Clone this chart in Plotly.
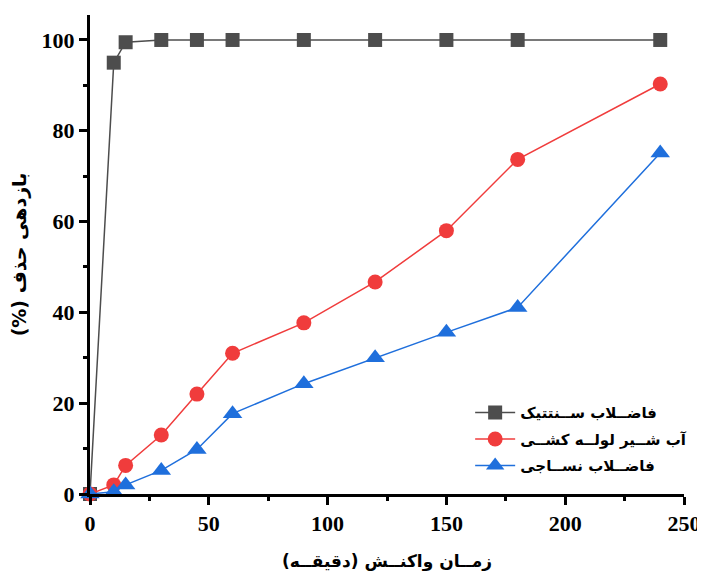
import plotly.graph_objects as go

time_min = [0, 10, 15, 30, 45, 60, 90, 120, 150, 180, 240]
synthetic = [0, 95, 99.5, 100, 100, 100, 100, 100, 100, 100, 100]
tap_water = [0, 2, 6.3, 13, 22, 31, 37.7, 46.7, 58, 73.7, 90.3]
textile = [0, 0.5, 2, 5.2, 9.8, 17.7, 24.3, 30, 35.6, 41.1, 75.1]

names = [
    "فاضــلاب ســنتتيک",
    "آب شــير لولــه كشــی",
    "فاضــلاب نســاجی",
]
colors = ["#4d4d4d", "#f03c3c", "#1f6fdc"]
symbols = ["square", "circle", "triangle-up"]
sizes = [14, 15, 17]
series = [synthetic, tap_water, textile]

x_title = "زمــان واکنــش (دقیقــه)"
y_title = "\u202bبازدهی حذف (%)\u202c"

fig = go.Figure()
for i, (name, ys, c, s, sz) in enumerate(zip(names, series, colors, symbols, sizes)):
    fig.add_trace(go.Scatter(
        x=time_min, y=ys, name=name, mode="lines+markers",
        line=dict(color=c, width=1.5),
        marker=dict(symbol=s, size=sz, color=c),
        cliponaxis=False, legendgroup=f"g{i}",
    ))

tickfont = dict(family="Liberation Serif", size=22, color="black", weight="bold")
fig.update_layout(
    width=697, height=569,
    margin=dict(l=82, r=21, t=7, b=83, autoexpand=False),
    plot_bgcolor="white", paper_bgcolor="white",
    showlegend=True,
    legend=dict(
        x=0.64, y=0.204, xanchor="left", yanchor="top",
        font=dict(family="DejaVu Sans", size=15, color="black", weight="bold"),
        bgcolor="rgba(0,0,0,0)", tracegroupgap=4, itemwidth=40,
    ),
    xaxis=dict(
        range=[0, 250], tickvals=[0, 50, 100, 150, 200, 250], automargin=False,
        showgrid=False, zeroline=False, showline=True, linecolor="black", linewidth=3,
        ticks="outside", ticklen=8, tickwidth=3, tickcolor="black",
        minor=dict(ticks="outside", ticklen=4, tickwidth=3, tickcolor="black", dtick=25, showgrid=False),
        tickfont=tickfont,
        title=dict(text=x_title, font=dict(family="DejaVu Sans", size=17, color="black", weight="bold"), standoff=20),
    ),
    yaxis=dict(
        range=[0, 105.5], tickvals=[0, 20, 40, 60, 80, 100], automargin=False,
        showgrid=False, zeroline=False, showline=True, linecolor="black", linewidth=3,
        ticks="outside", ticklen=8, tickwidth=3, tickcolor="black",
        minor=dict(ticks="outside", ticklen=4, tickwidth=3, tickcolor="black", dtick=10, showgrid=False),
        tickfont=tickfont,
        title=dict(text=y_title, font=dict(family="DejaVu Sans", size=19, color="black", weight="bold"), standoff=11),
    ),
)

fig.write_html("out.html")
